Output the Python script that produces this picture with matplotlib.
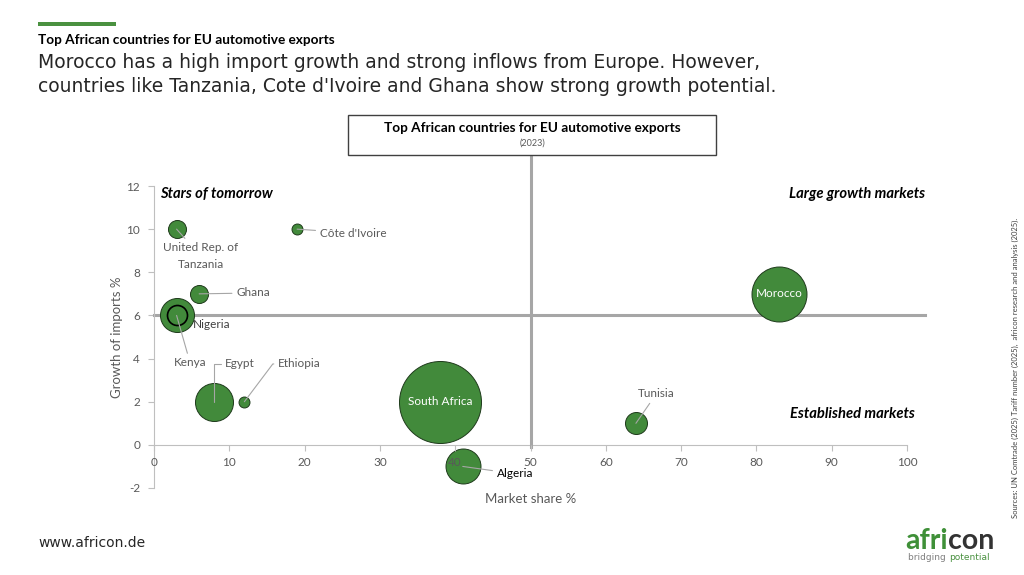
import matplotlib
matplotlib.use("Agg")
from matplotlib import pyplot as plt
from matplotlib.patches import Rectangle

plt.rcParams['font.family'] = ['Lato', 'DejaVu Sans']

# data: market share %, growth of imports %, bubble size (relative)
countries = ["United Rep. of\nTanzania", "Côte d'Ivoire", "Ghana", "Nigeria", "Kenya",
             "Egypt", "Ethiopia", "South Africa", "Algeria", "Tunisia", "Morocco"]
market_share = [3, 19, 6, 3, 3, 8, 12, 38, 41, 64, 83]
import_growth = [10, 10, 7, 6, 6, 2, 2, 2, -1, 1, 7]
bubble_size = [81, 30, 81, 289, 100, 361, 30, 1681, 306, 121, 756]

x_ticks = [0, 10, 20, 30, 40, 50, 60, 70, 80, 90, 100]
y_ticks = [-2, 0, 2, 4, 6, 8, 10, 12]

GREEN = '#428a3b'
GREY = '#595959'

W, H = 1024, 575
fig = plt.figure(figsize=(W / 100, H / 100), dpi=100)


def fx(px):
    return px / W


def fy(py):
    return 1 - py / H


# plot area
ax = fig.add_axes([fx(154), fy(488), (907 - 154) / W, (488 - 186) / H])
ax.set_xlim(0, 100)
ax.set_ylim(-2, 12)

# bubbles (Kenya drawn on top of Nigeria)
scale = 1.44 ** 2
for i, name in enumerate(countries):
    edge = 'black' if name == "Kenya" else '#1e3a1b'
    lw = 1.2 if name == "Kenya" else 0.7
    ax.scatter(market_share[i], import_growth[i], s=bubble_size[i] * scale,
               color=GREEN, edgecolor=edge, linewidth=lw, zorder=3 + i * 0.01)

# axes styling
for s in ['top', 'right']:
    ax.spines[s].set_visible(False)
ax.spines['bottom'].set_position(('data', 0))
ax.spines['bottom'].set_color('#bfbfbf')
ax.spines['left'].set_color('#bfbfbf')
ax.spines['bottom'].set_zorder(1)
ax.set_xticks(x_ticks)
ax.set_yticks(y_ticks)
ax.set_yticklabels([str(v) for v in y_ticks])
ax.tick_params(axis='both', colors='#bfbfbf', labelcolor=GREY, labelsize=8.5, length=4)
ax.tick_params(axis='x', pad=5)
ax.tick_params(axis='y', pad=6)
ax.xaxis.set_zorder(6)  # tick label "40" sits on top of the Algeria bubble

ax.set_xlabel("Market share %", color=GREY, fontsize=9.5)
ax.xaxis.set_label_coords(0.5, -0.015)
ax.set_ylabel("Growth of imports %", color=GREY, fontsize=9.5)
ax.yaxis.set_label_coords(-0.041, 0.5)

# quadrant dividers
ax.plot([50, 50], [-0.12, 13.9], color='#a6a6a6', lw=2.2, clip_on=False, zorder=2)
ax.plot([0, 102.4], [6, 6], color='#a6a6a6', lw=2.2, clip_on=False, zorder=2)

# quadrant names
quad = dict(fontsize=10.6, fontweight='bold', style='italic', va='center')
ax.text(0.8, 11.63, "Stars of tomorrow", ha='left', **quad)
ax.text(102.4, 11.63, "Large growth markets", ha='right', **quad)
ax.text(101.1, 1.44, "Established markets", ha='right', **quad)

# bubble labels
lead = dict(arrowstyle='-', color='#a6a6a6', lw=0.8, shrinkA=1, shrinkB=0)
lab = dict(fontsize=8.5, color=GREY, zorder=8)
ax.annotate(countries[0], xy=(market_share[0], import_growth[0]), xytext=(6.2, 8.76),
            ha='center', va='center', linespacing=1.6, arrowprops=lead, **lab)
ax.annotate(countries[1], xy=(market_share[1], import_growth[1]), xytext=(22.0, 9.82),
            ha='left', va='center', arrowprops=lead, **lab)
ax.annotate(countries[2], xy=(market_share[2], import_growth[2]), xytext=(10.9, 7.04),
            ha='left', va='center', arrowprops=lead, **lab)
ax.text(5.2, 5.56, countries[3], ha='left', va='center', fontsize=8.5, color='#404040', zorder=8)
ax.annotate(countries[4], xy=(market_share[4], import_growth[4]), xytext=(4.8, 3.8),
            ha='center', va='center', arrowprops=lead, **lab)
ax.annotate(countries[5], xy=(market_share[5], import_growth[5]), xytext=(11.4, 3.75),
            ha='center', va='center',
            arrowprops=dict(lead, connectionstyle='angle,angleA=0,angleB=90,rad=0'), **lab)
ax.annotate(countries[6], xy=(market_share[6], import_growth[6]), xytext=(19.3, 3.75),
            ha='center', va='center',
            arrowprops=dict(lead, connectionstyle='angle,angleA=0,angleB=53,rad=0'), **lab)
ax.text(market_share[7], import_growth[7], countries[7], ha='center', va='center',
        fontsize=8.5, color='white', zorder=8)
ax.annotate(countries[8], xy=(market_share[8], import_growth[8]), xytext=(45.5, -1.34),
            ha='left', va='center', arrowprops=lead, fontsize=8.5, color='black', zorder=8)
ax.annotate(countries[9], xy=(market_share[9], import_growth[9]), xytext=(66.7, 2.36),
            ha='center', va='center', arrowprops=lead, **lab)
ax.text(market_share[10], import_growth[10], countries[10], ha='center', va='center',
        fontsize=8.5, color='white', zorder=8)

# chart title box
fig.patches.append(Rectangle((fx(348), fy(155)), (716 - 348) / W, (155 - 115) / H,
                             transform=fig.transFigure, facecolor='white',
                             edgecolor='#404040', lw=1.0))
fig.text(fx(532), fy(128), "Top African countries for EU automotive exports",
         ha='center', va='center', fontsize=9.8, fontweight='bold')
fig.text(fx(532), fy(143), "(2023)", ha='center', va='center', fontsize=6.5, color=GREY)

# page header
fig.patches.append(Rectangle((fx(38), fy(26)), (116 - 38) / W, 4 / H,
                             transform=fig.transFigure, facecolor='#4a9140', edgecolor='none'))
fig.text(fx(38), fy(40), "Top African countries for EU automotive exports",
         ha='left', va='center', fontsize=9.8, fontweight='bold')

fig.text(fx(38), fy(63), "Morocco has a high import growth and strong inflows from Europe. However,",
         ha='left', va='center', fontsize=13.5, color='#262626', family='DejaVu Sans')
fig.text(fx(38), fy(87), "countries like Tanzania, Cote d'Ivoire and Ghana show strong growth potential.",
         ha='left', va='center', fontsize=13.5, color='#262626', family='DejaVu Sans')

# footer
fig.text(fx(38), fy(543), "www.africon.de", ha='left', va='center',
         fontsize=10, color='#262626', family='DejaVu Sans')

r = fig.canvas.get_renderer()
t1 = fig.text(fx(905), fy(541), "afri", ha='left', va='center', fontsize=20.5,
              fontweight='bold', color='#3f9038')
w1 = t1.get_window_extent(r).width
fig.text(fx(905 + w1), fy(541), "con", ha='left', va='center', fontsize=20.5,
         fontweight='bold', color='#333333')
t2 = fig.text(fx(908), fy(557), "bridging ", ha='left', va='center', fontsize=6.5,
              color='#7f7f7f', family='DejaVu Sans')
w2 = t2.get_window_extent(r).width
fig.text(fx(908 + w2), fy(557), "potential", ha='left', va='center', fontsize=6.5,
         color='#4a9140', family='DejaVu Sans')

fig.text(fx(1015), fy(368),
         "Sources: UN Comtrade (2025) Tariff number (2025),  africon research and analysis (2025).",
         rotation=90, ha='center', va='center', fontsize=5.5, color='#404040')

fig.savefig("out.png", dpi=100, facecolor='white')
